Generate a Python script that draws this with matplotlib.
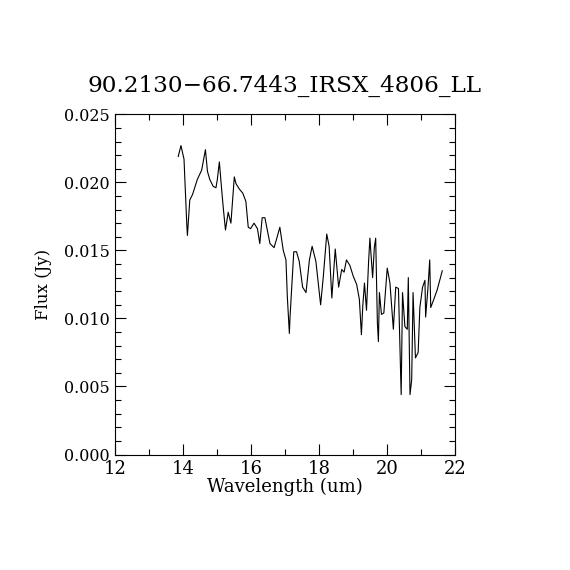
import numpy as np
import matplotlib
matplotlib.use("Agg")
import matplotlib.pyplot as plt
from matplotlib.ticker import MultipleLocator

# spectrum
wave = [13.86, 13.94, 14.03, 14.11, 14.13, 14.20, 14.28, 14.42, 14.55, 14.66,
        14.72, 14.79, 14.89, 14.97, 15.01, 15.07, 15.14, 15.19, 15.25, 15.33,
        15.41, 15.51, 15.56, 15.66, 15.76, 15.85, 15.92, 15.99, 16.09, 16.19,
        16.26, 16.33, 16.41, 16.48, 16.56, 16.68, 16.75, 16.85, 16.95, 17.03,
        17.07, 17.13, 17.15, 17.20, 17.26, 17.34, 17.42, 17.52, 17.62, 17.72,
        17.80, 17.91, 18.05, 18.13, 18.23, 18.30, 18.38, 18.48, 18.58, 18.67,
        18.74, 18.81, 18.91, 19.01, 19.11, 19.19, 19.25, 19.29, 19.34, 19.40,
        19.46, 19.50, 19.58, 19.63, 19.67, 19.72, 19.75, 19.78, 19.84, 19.91,
        20.01, 20.09, 20.19, 20.26, 20.34, 20.42, 20.46, 20.53, 20.60, 20.63,
        20.68, 20.73, 20.77, 20.84, 20.92, 20.97, 21.05, 21.12, 21.14, 21.21,
        21.26, 21.29, 21.38, 21.48, 21.63]
flux = [0.0219, 0.0227, 0.0217, 0.0170, 0.0161, 0.0187, 0.0191, 0.0202, 0.0209, 0.0224,
        0.0208, 0.0202, 0.0197, 0.0196, 0.0202, 0.0215, 0.0194, 0.0180, 0.0165, 0.0178,
        0.0170, 0.0204, 0.0199, 0.0195, 0.0192, 0.0186, 0.0167, 0.0166, 0.0170, 0.0166,
        0.0155, 0.0174, 0.0174, 0.0165, 0.0155, 0.0152, 0.0158, 0.0167, 0.0150, 0.0143,
        0.0116, 0.0089, 0.0101, 0.0123, 0.0149, 0.0149, 0.0142, 0.0123, 0.0119, 0.0143,
        0.0153, 0.0142, 0.0110, 0.0131, 0.0162, 0.0153, 0.0115, 0.0151, 0.0123, 0.0136,
        0.0134, 0.0143, 0.0139, 0.0131, 0.0125, 0.0114, 0.0088, 0.0109, 0.0126, 0.0106,
        0.0141, 0.0159, 0.0130, 0.0152, 0.0159, 0.0097, 0.0083, 0.0119, 0.0103, 0.0104,
        0.0137, 0.0126, 0.0092, 0.0123, 0.0122, 0.0044, 0.0119, 0.0094, 0.0092, 0.0130,
        0.0044, 0.0055, 0.0119, 0.0071, 0.0075, 0.0108, 0.0123, 0.0128, 0.0101, 0.0123,
        0.0143, 0.0108, 0.0114, 0.0121, 0.0135]

title = "90.2130\u221266.7443_IRSX_4806_LL"

plt.rcParams['font.family'] = ['DejaVu Serif']

fig = plt.figure(figsize=(5.7, 5.7), dpi=100)
ax = fig.add_axes([0.2018, 0.2026, 0.5962, 0.5969])
ax.plot(wave, flux, color='black', lw=0.8)

ax.set_xlim(12, 22)
ax.set_ylim(0, 0.025)
ax.xaxis.set_major_locator(MultipleLocator(2))
ax.xaxis.set_minor_locator(MultipleLocator(1))
ax.yaxis.set_major_locator(MultipleLocator(0.005))
ax.yaxis.set_minor_locator(MultipleLocator(0.001))
ax.yaxis.set_major_formatter(plt.FormatStrFormatter('%.3f'))
ax.tick_params(which='both', direction='in', top=True, right=True, width=0.8)
ax.tick_params(which='major', length=8)
ax.tick_params(which='minor', length=4)
ax.tick_params(axis='x', labelsize=13, pad=4)
ax.tick_params(axis='y', labelsize=11.5, pad=4)
for s in ax.spines.values():
    s.set_linewidth(0.8)

ax.set_xlabel("Wavelength (um)", fontsize=13, labelpad=0)
ax.set_ylabel("Flux (Jy)", fontsize=12, labelpad=8)
ax.set_title(title, fontsize=16.7, pad=16)

fig.savefig("out.png", dpi=100)
